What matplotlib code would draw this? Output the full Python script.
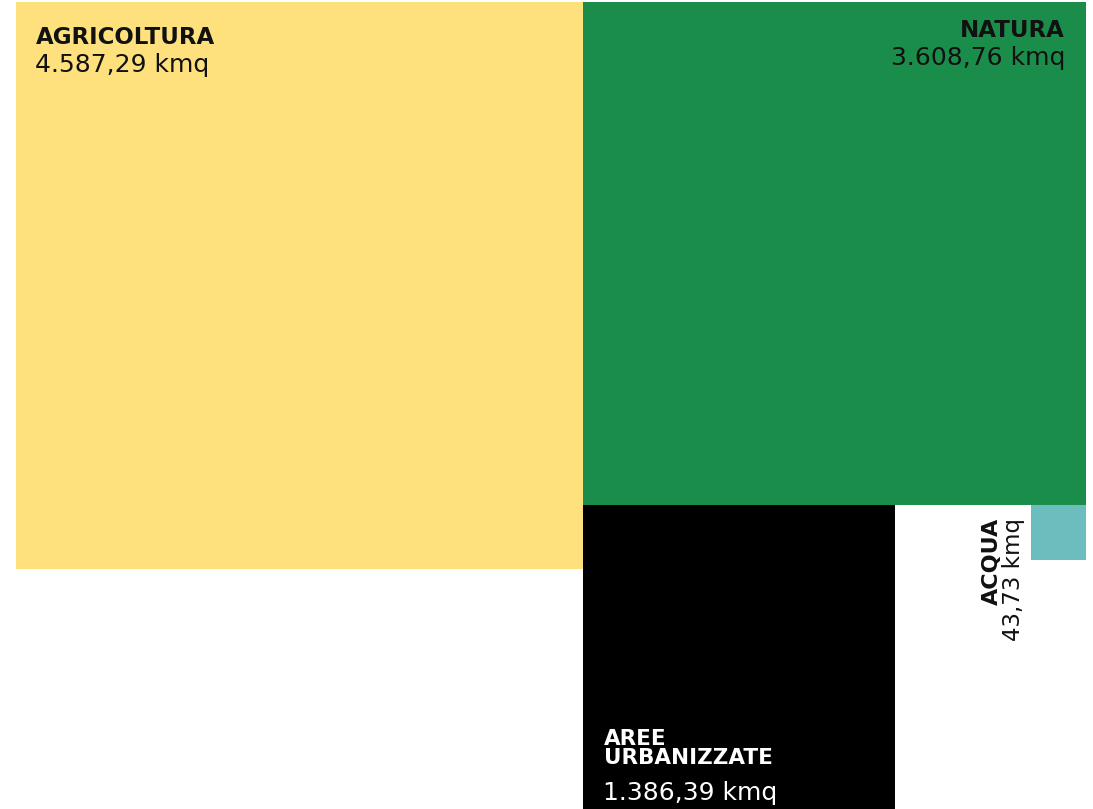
import numpy as np
import matplotlib
matplotlib.use("Agg")
import matplotlib.pyplot as plt
from matplotlib.patches import Rectangle

# Land use, areas in square kilometres
categories = ["AGRICOLTURA", "NATURA", "AREE\nURBANIZZATE", "ACQUA"]
areas_kmq = [4587.29, 3608.76, 1386.39, 43.73]
value_labels = ["4.587,29 kmq", "3.608,76 kmq", "1.386,39 kmq", "43,73 kmq"]
colors = ["#FEE17C", "#1B8D4B", "#000000", "#6CBDBD"]

W, H, DPI = 1093, 809, 100
plt.rcParams["font.family"] = ["DejaVu Sans"]

fig = plt.figure(figsize=(W / DPI, H / DPI), dpi=DPI)
ax = fig.add_axes([0, 0, 1, 1])
ax.set_axis_off()

# each square's side is the square root of its area (km)
side = np.sqrt(np.array(areas_kmq))
s_agri, s_nat, s_urb, s_acq = side

# page margins in pixels; scale (px per km) fills the width with the top row
left_px, right_px, top_px = 16, 7, 2
k = (W - left_px - right_px) / (s_agri + s_nat)
x0 = -left_px / k
y0 = -top_px / k
ax.set_xlim(x0, x0 + W / k)
ax.set_ylim(y0 + H / k, y0)

# square origins (top-left corners): agriculture left, nature to its right,
# urban areas under nature (left-aligned), water under nature (right-aligned)
origins = [
    (0.0, 0.0),
    (s_agri, 0.0),
    (s_agri, s_nat),
    (s_agri + s_nat - s_acq, s_nat),
]
for (x, y), s, c in zip(origins, side, colors):
    ax.add_patch(Rectangle((x, y), s, s, facecolor=c, edgecolor="none"))

PT = 72 / DPI  # pixel -> point
LABEL_FS = 16.5
VALUE_FS = 18
INK = "#111111"


def put(text, xy, dx, dy, **kw):
    ax.annotate(text, xy=xy, xytext=(dx * PT, -dy * PT),
                textcoords="offset points", va="baseline",
                annotation_clip=False, **kw)


# Agricoltura: top-left
ox, oy = origins[0]
put(categories[0], (ox, oy), 20, 42, ha="left", fontsize=LABEL_FS,
    fontweight="bold", color=INK)
put(value_labels[0], (ox, oy), 19, 70, ha="left", fontsize=VALUE_FS,
    color=INK)

# Natura: top-right
ox, oy = origins[1]
put(categories[1], (ox + s_nat, oy), -21, 35, ha="right", fontsize=LABEL_FS,
    fontweight="bold", color=INK)
put(value_labels[1], (ox + s_nat, oy), -21, 63, ha="right",
    fontsize=VALUE_FS, color=INK)

# Aree urbanizzate: lower part of the black square (anchored on last line)
ox, oy = origins[2]
put(categories[2], (ox, oy), 21, 259, ha="left", fontsize=15.5,
    fontweight="bold", color="white", linespacing=0.92)
put(value_labels[2], (ox, oy), 20, 295, ha="left", fontsize=VALUE_FS,
    color="white")

# Acqua: rotated, to the left of the small square
ox, oy = origins[3]
put(categories[3], (ox, oy), -33, 13, ha="right", rotation=90,
    rotation_mode="anchor", fontsize=16, fontweight="bold", color=INK)
put(value_labels[3], (ox, oy), -11, 13, ha="right", rotation=90,
    rotation_mode="anchor", fontsize=16.5, color=INK)

fig.savefig("out.png", dpi=DPI, facecolor="white")
